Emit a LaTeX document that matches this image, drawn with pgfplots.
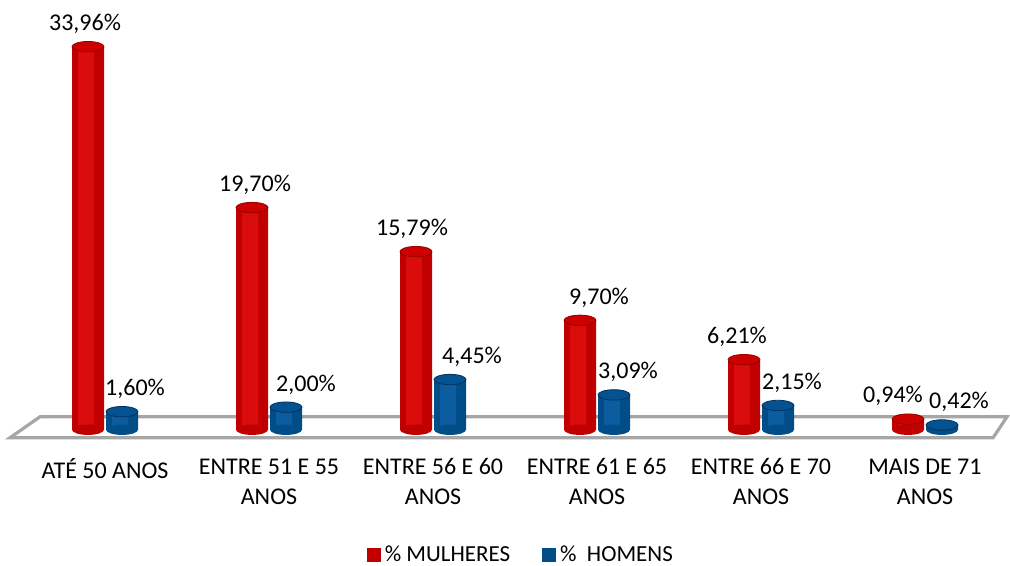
\documentclass[border=0pt]{standalone}
\usepackage{pgfplots}
\pgfplotsset{compat=1.18}
\usepackage{pgfplotstable}
\usetikzlibrary{shapes.geometric}
\usepackage{fontspec}
\setmainfont{Carlito}
\definecolor{cred}{RGB}{192,0,0}
\definecolor{credd}{RGB}{150,0,0}
\definecolor{credl}{RGB}{218,12,12}
\definecolor{credt}{RGB}{205,0,0}
\definecolor{cblue}{RGB}{0,77,135}
\definecolor{cblued}{RGB}{0,50,95}
\definecolor{cbluel}{RGB}{12,92,160}
\definecolor{cbluet}{RGB}{5,82,145}
\pgfplotstableread{
x y dx
0 33.96 -1.5
1 19.70 1.5
2 15.79 -2
3 9.70 9.5
4 6.21 -3.5
5 0.94 -7.5
}\mul
\pgfplotstableread{
x y dx
0 1.60 6.5
1 2.00 10
2 4.45 11
3 3.09 7
4 2.15 7
5 0.42 8.5
}\hom
\pgfplotstableread{
x y
0 0
1 0
2 0
3 0
4 0
5 0
}\zero
\begin{document}
\begin{tikzpicture}
\begin{axis}[
  name=ax,
  scale only axis,
  width=500.2pt, height=220.5pt,
  xmin=-0.6, xmax=5.5, ymin=-1, ymax=38.1,
  clip=false,
  axis line style={draw=none},
  ytick=\empty,
  xtick={0,...,5},
  xtick style={draw=none},
  xticklabels={{ATÉ 50 ANOS},{ENTRE 51 E 55\\[1.5pt]ANOS},{ENTRE 56 E 60\\[1.5pt]ANOS},{ENTRE 61 E 65\\[1.5pt]ANOS},{ENTRE 66 E 70\\[1.5pt]ANOS},{MAIS DE 71\\[1.5pt]ANOS}},
  xticklabel style={align=center, font=\fontsize{12}{13.5}\selectfont, anchor=north, yshift=-1pt},
  ybar, bar width=16pt,
  /pgf/number format/.cd, fixed, fixed zerofill, precision=2, use comma, assume math mode=true,
  /pgfplots/.cd,
  legend columns=2,
  legend style={draw=none, fill=none, at={(0.515,-0.258)}, anchor=center,
    font=\fontsize{11.5}{13}\selectfont,
    /tikz/every even column/.append style={column sep=14pt}},
  ell/.style={nodes near coords={}, every node near coord/.append style={ellipse, fill=#1, minimum width=16pt, minimum height=5.2pt, inner sep=0pt, anchor=center}},
]
\draw[gray!70, line width=1.6pt, fill=white] (axis cs:-0.579,-0.709) -- (axis cs:-0.396,1.152) -- (axis cs:5.5,1.152) -- (axis cs:5.415,-0.709) -- cycle;
% bottoms
\addplot[forget plot, bar shift=-8.5pt, draw=none, fill=none, ell=cred] table[x=x,y=y] {\zero};
\addplot[forget plot, bar shift=8.5pt, draw=none, fill=none, ell=cblue] table[x=x,y=y] {\zero};
% bodies
\addplot[bar shift=-8.5pt, draw=none, fill=cred,
  nodes near coords={\pgfmathprintnumber{\pgfplotspointmeta}\%},
  visualization depends on={\thisrow{dx}\as\dx},
  every node near coord/.append style={font=\fontsize{12}{14}\selectfont, text=black, xshift=\dx pt, yshift=3pt},
  legend image code/.code={\fill[cred] (0pt,-3.5pt) rectangle (7pt,3.5pt);}] table[x=x,y=y] {\mul};
\addplot[bar shift=8.5pt, draw=none, fill=cblue,
  nodes near coords={\pgfmathprintnumber{\pgfplotspointmeta}\%},
  visualization depends on={\thisrow{dx}\as\dx},
  every node near coord/.append style={font=\fontsize{12}{14}\selectfont, text=black, xshift=\dx pt, yshift=3pt},
  legend image code/.code={\fill[cblue] (0pt,-3.5pt) rectangle (7pt,3.5pt);}] table[x=x,y=y] {\hom};
% highlights
\addplot[forget plot, bar shift=-9.5pt, bar width=8pt, draw=none, fill=credl] table[x=x,y=y] {\mul};
\addplot[forget plot, bar shift=7.5pt, bar width=8pt, draw=none, fill=cbluel] table[x=x,y=y] {\hom};
% tops
\addplot[forget plot, bar shift=-8.5pt, draw=none, fill=none, ell=credt, every node near coord/.append style={draw=credd, line width=0.4pt}] table[x=x,y=y] {\mul};
\addplot[forget plot, bar shift=8.5pt, draw=none, fill=none, ell=cbluet, every node near coord/.append style={draw=cblued, line width=0.4pt}] table[x=x,y=y] {\hom};
\legend{\% MULHERES, \%\ \ HOMENS}
\end{axis}
\pgfresetboundingbox
\path ([shift={(-3.3pt,-62.5pt)}]ax.south west) rectangle ([shift={(1.5pt,0pt)}]ax.north east);
\end{tikzpicture}
\end{document}
